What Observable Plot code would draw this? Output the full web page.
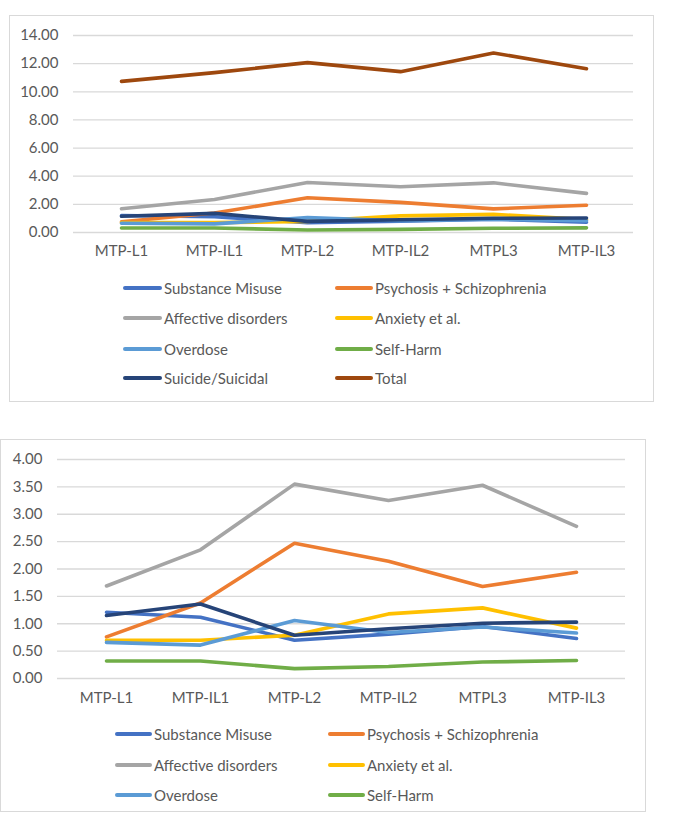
<!DOCTYPE html>
<html>
<head>
<meta charset="utf-8">
<script src="https://cdn.jsdelivr.net/npm/d3@7"></script>
<script src="https://cdn.jsdelivr.net/npm/@observablehq/plot@0.6"></script>
<style>
  html, body { margin: 0; padding: 0; background: #fff; }
  body { position: relative; width: 680px; height: 814px; overflow: hidden; font-family: "Lato", "Liberation Sans", sans-serif; }
  .box { position: absolute; border: 1px solid #d9d9d9; box-sizing: border-box; }
  .chart { position: absolute; left: 0; }
  .leg { position: absolute; display: flex; align-items: center; font-size: 15px; color: #595959; white-space: nowrap; height: 20px; }
  .leg .sw { display: inline-block; height: 4px; border-radius: 2px; margin-right: 2px; }
</style>
</head>
<body>
<div class="box" style="left:9px;top:15px;width:645px;height:387px;"></div>
<div class="box" style="left:0px;top:439px;width:646px;height:373px;"></div>
<div id="top" class="chart" style="top:0px;"></div>
<div id="bottom" class="chart" style="top:440px;"></div>
<div id="legTop"></div>
<div id="legBottom"></div>
<script>
const categories = ["MTP-L1", "MTP-IL1", "MTP-L2", "MTP-IL2", "MTPL3", "MTP-IL3"];
const seriesNames = ["Substance Misuse", "Psychosis + Schizophrenia", "Affective disorders", "Anxiety et al.", "Overdose", "Self-Harm", "Suicide/Suicidal", "Total"];
const seriesColors = ["#4472C4", "#ED7D31", "#A5A5A5", "#FFC000", "#5B9BD5", "#70AD47", "#264478", "#9E480E"];

const substanceMisuse = [1.21, 1.12, 0.70, 0.81, 0.95, 0.73];
const psychosis       = [0.76, 1.38, 2.47, 2.14, 1.68, 1.94];
const affective       = [1.69, 2.35, 3.55, 3.25, 3.53, 2.78];
const anxiety         = [0.70, 0.70, 0.79, 1.18, 1.29, 0.92];
const overdose        = [0.66, 0.61, 1.06, 0.84, 0.94, 0.83];
const selfHarm        = [0.32, 0.32, 0.18, 0.22, 0.30, 0.33];
const suicide         = [1.15, 1.36, 0.79, 0.91, 1.01, 1.03];
const total           = [10.74, 11.36, 12.07, 11.43, 12.76, 11.64];

const topTicks = [0, 2, 4, 6, 8, 10, 12, 14];
const bottomTicks = [0, 0.5, 1, 1.5, 2, 2.5, 3, 3.5, 4];

const allValues = [substanceMisuse, psychosis, affective, anxiety, overdose, selfHarm, suicide, total];
const rows = [];
seriesNames.forEach((s, i) => categories.forEach((c, j) => rows.push({series: s, cat: c, value: allValues[i][j]})));

const fmt = d3.format(".2f");

function chart(data, ticks, opts) {
  return Plot.plot({
    width: 680,
    height: opts.height,
    marginLeft: opts.ml,
    marginRight: opts.mr,
    marginTop: opts.mt,
    marginBottom: opts.mb,
    style: {fontFamily: "Lato, 'Liberation Sans', sans-serif", fontSize: "15px", color: "#595959", background: "transparent"},
    x: {type: "point", domain: categories, padding: 0.5, label: null, tickSize: 0, tickPadding: opts.xpad},
    y: {domain: [ticks[0], ticks[ticks.length - 1]], ticks: ticks, tickFormat: fmt, label: null, tickSize: 0, tickPadding: 15},
    color: {domain: seriesNames, range: seriesColors},
    marks: [
      Plot.ruleY(ticks, {stroke: "#d9d9d9", strokeWidth: 1.3}),
      Plot.line(data, {x: "cat", y: "value", z: "series", stroke: "series", strokeWidth: 3.6, strokeLinecap: "round", strokeLinejoin: "round"})
    ]
  });
}

document.getElementById("top").appendChild(chart(rows, topTicks, {height: 270, ml: 73, mr: 47, mt: 35, mb: 38, xpad: 13}));
const bottomRows = rows.filter(r => r.series !== "Total");
document.getElementById("bottom").appendChild(chart(bottomRows, bottomTicks, {height: 280, ml: 57, mr: 55, mt: 19, mb: 42, xpad: 14}));

function legend(containerId, names, rowsY, col1, col2) {
  const el = document.getElementById(containerId);
  names.forEach((name, i) => {
    const col = i % 2 === 0 ? col1 : col2;
    const y = rowsY[Math.floor(i / 2)];
    const d = document.createElement("div");
    d.className = "leg";
    d.style.left = col.x + "px";
    d.style.top = (y - 10) + "px";
    const sw = document.createElement("span");
    sw.className = "sw";
    sw.style.width = col.w + "px";
    sw.style.background = seriesColors[seriesNames.indexOf(name)];
    d.appendChild(sw);
    d.appendChild(document.createTextNode(name));
    el.appendChild(d);
  });
}
legend("legTop", seriesNames, [288, 318, 349, 378], {x: 123, w: 39}, {x: 335, w: 38});
legend("legBottom", seriesNames.slice(0, 6), [734, 765, 795], {x: 115, w: 37}, {x: 328, w: 37});
</script>
</body>
</html>
